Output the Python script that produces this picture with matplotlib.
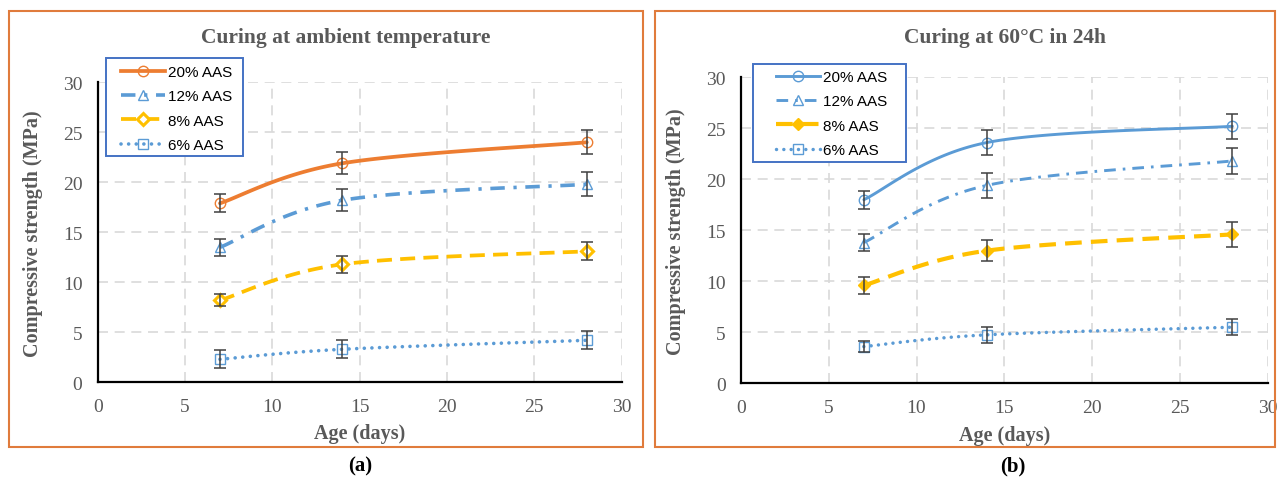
import numpy as np
import matplotlib
matplotlib.use("Agg")
import matplotlib.pyplot as plt
from matplotlib.lines import Line2D
from matplotlib.patches import Rectangle

# ---- data -------------------------------------------------------------
days = [7, 14, 28]
series_labels = ["20% AAS", "12% AAS", "8% AAS", "6% AAS"]

# Curing at ambient temperature
amb_20 = [17.9, 21.9, 24.0]
amb_12 = [13.5, 18.2, 19.8]
amb_8 = [8.2, 11.8, 13.1]
amb_6 = [2.3, 3.3, 4.2]
amb_20_err = [0.9, 1.1, 1.2]
amb_12_err = [0.85, 1.1, 1.2]
amb_8_err = [0.6, 0.85, 0.9]
amb_6_err = [0.9, 0.9, 0.9]

# Curing at 60 °C for 24 h
hot_20 = [18.0, 23.6, 25.2]
hot_12 = [13.8, 19.4, 21.8]
hot_8 = [9.6, 13.0, 14.6]
hot_6 = [3.6, 4.75, 5.5]
hot_20_err = [0.9, 1.2, 1.25]
hot_12_err = [0.85, 1.2, 1.3]
hot_8_err = [0.8, 1.05, 1.2]
hot_6_err = [0.55, 0.75, 0.8]

x_ticks = [0, 5, 10, 15, 20, 25, 30]
y_ticks = [0, 5, 10, 15, 20, 25, 30]

# ---- style ------------------------------------------------------------
W, H = 1277, 481
ORANGE = "#ED7D31"
BLUE = "#5B9BD5"
GOLD = "#FFC000"
GRAY_TXT = "#595959"
SERIF = ["Liberation Serif", "DejaVu Serif"]
SANS = ["Liberation Sans", "DejaVu Sans"]

DASHDOT = (0, (4.0, 2.4, 0.9, 2.4))
DASH = (0, (4.0, 2.2))
DOTS = (0, (0.01, 2.1))


def smooth(x, y, n=60):
    """Bezier smoothing through the points (spreadsheet-style smoothed line)."""
    P = np.column_stack([x, y]).astype(float)
    out = []
    for i in range(len(P) - 1):
        p0 = P[i - 1] if i > 0 else P[i]
        p1, p2 = P[i], P[i + 1]
        p3 = P[i + 2] if i + 2 < len(P) else P[i + 1]
        c1 = p1 + (p2 - p0) / 6.0
        c2 = p2 - (p3 - p1) / 6.0
        t = np.linspace(0, 1, n)[:, None]
        seg = ((1 - t) ** 3) * p1 + 3 * t * (1 - t) ** 2 * c1 + 3 * t ** 2 * (1 - t) * c2 + t ** 3 * p2
        out.append(seg if i == 0 else seg[1:])
    pts = np.vstack(out)
    return pts[:, 0], pts[:, 1]


fig = plt.figure(figsize=(W / 100, H / 100), dpi=100)


def px_axes(x0, y_top, x1, y_bot):
    return fig.add_axes([x0 / W, 1 - y_bot / H, (x1 - x0) / W, (y_bot - y_top) / H])


def draw_panel(ax, series, title, title_x, legend_box, legend_anchor):
    ax.set_xlim(0, 30)
    ax.set_ylim(0, 30)
    ax.set_xticks(x_ticks)
    ax.set_yticks(y_ticks)
    ax.grid(True, color="#D9D9D9", linestyle=(0, (6, 4)), linewidth=1.2)
    ax.set_axisbelow(True)
    for s in ("top", "right"):
        ax.spines[s].set_visible(False)
    for s in ("left", "bottom"):
        ax.spines[s].set_color("black")
        ax.spines[s].set_linewidth(1.6)
    ax.tick_params(length=0, pad=11, labelcolor=GRAY_TXT, labelsize=14)
    for lab in ax.get_xticklabels() + ax.get_yticklabels():
        lab.set_family(SERIF)

    ax.set_xlabel("Age (days)", fontsize=14.5, fontweight="bold", color=GRAY_TXT, family=SERIF)
    ax.set_ylabel("Compressive strength (MPa)", fontsize=14.5, fontweight="bold", color=GRAY_TXT, family=SERIF)
    ax.xaxis.set_label_coords(0.5, -0.135)
    ax.yaxis.set_label_coords(-0.104, 0.5)

    handles = []
    for vals, errs, st in series:
        sx, sy = smooth(days, vals)
        ax.plot(sx, sy, color=st["color"], lw=st["lw"], linestyle=st["ls"],
                dash_capstyle="round" if st["ls"] == DOTS else "butt",
                solid_capstyle="round", zorder=3)
        ax.plot(days, vals, linestyle="none", marker=st["marker"], ms=st["ms"],
                mfc=st["mfc"], mec=st["color"], mew=st["mew"], zorder=4)
        ax.errorbar(days, vals, yerr=errs, fmt="none", ecolor="#404040",
                    elinewidth=1.1, capsize=4.5, capthick=1.1, zorder=5)
        handles.append(Line2D([], [], color=st["color"], lw=st["lw"], linestyle=st["ls"],
                              dash_capstyle="round" if st["ls"] == DOTS else "butt",
                              marker=st["marker"], ms=st["ms"], mfc=st["mfc"],
                              mec=st["color"], mew=st["mew"]))

    fig.legend(handles, series_labels, loc="upper left",
               bbox_to_anchor=(legend_anchor[0] / W, 1 - legend_anchor[1] / H),
               frameon=False, borderpad=0, borderaxespad=0, handlelength=2.9,
               handletextpad=0.15, labelspacing=0.68, numpoints=1,
               prop={"family": SANS, "size": 11})
    bx0, by0, bx1, by1 = legend_box
    fig.add_artist(Rectangle((bx0 / W, 1 - by1 / H), (bx1 - bx0) / W, (by1 - by0) / H,
                             transform=fig.transFigure, fill=True, facecolor="white",
                             edgecolor="#4472C4", lw=1.4, zorder=2))

    fig.text(title_x / W, 1 - 38 / H, title, ha="center", va="center", fontsize=15.5,
             fontweight="bold", color=GRAY_TXT, family=SERIF)


# left panel
ax1 = px_axes(97.7, 83.3, 621.7, 383.3)
left_series = [
    (amb_20, amb_20_err, dict(color=ORANGE, lw=2.7, ls="-", marker="o", ms=7.5, mfc="none", mew=1.0)),
    (amb_12, amb_12_err, dict(color=BLUE, lw=2.6, ls=DASHDOT, marker="^", ms=7.5, mfc="none", mew=1.0)),
    (amb_8, amb_8_err, dict(color=GOLD, lw=2.7, ls=DASH, marker="D", ms=6.5, mfc="white", mew=2.2)),
    (amb_6, amb_6_err, dict(color=BLUE, lw=2.6, ls=DOTS, marker="s", ms=7.0, mfc="none", mew=1.0)),
]
draw_panel(ax1, left_series, "Curing at ambient temperature", 346,
           (106, 59, 243, 157), (121, 66))

# right panel
ax2 = px_axes(741, 78.3, 1267.5, 384.3)
right_series = [
    (hot_20, hot_20_err, dict(color=BLUE, lw=2.1, ls="-", marker="o", ms=7.5, mfc="none", mew=1.0)),
    (hot_12, hot_12_err, dict(color=BLUE, lw=2.1, ls=DASHDOT, marker="^", ms=7.5, mfc="none", mew=1.0)),
    (hot_8, hot_8_err, dict(color=GOLD, lw=3.0, ls=DASH, marker="D", ms=6.5, mfc=GOLD, mew=1.0)),
    (hot_6, hot_6_err, dict(color=BLUE, lw=2.5, ls=DOTS, marker="s", ms=7.0, mfc="none", mew=1.0)),
]
draw_panel(ax2, right_series, "Curing at 60\u00b0C in 24h", 1005,
           (753, 65, 906, 163), (776, 71))

# panel frames and captions
for x0, x1 in ((9, 643), (655, 1275)):
    fig.add_artist(Rectangle((x0 / W, 1 - 448 / H), (x1 - x0) / W, (448 - 12) / H,
                             transform=fig.transFigure, fill=False,
                             edgecolor="#E07B3C", lw=1.5))
fig.text(360 / W, 1 - 466 / H, "(a)", ha="center", va="center", fontsize=15,
         fontweight="bold", color="black", family=SERIF)
fig.text(1013 / W, 1 - 466 / H, "(b)", ha="center", va="center", fontsize=15,
         fontweight="bold", color="black", family=SERIF)

fig.savefig("out.png", dpi=100)
